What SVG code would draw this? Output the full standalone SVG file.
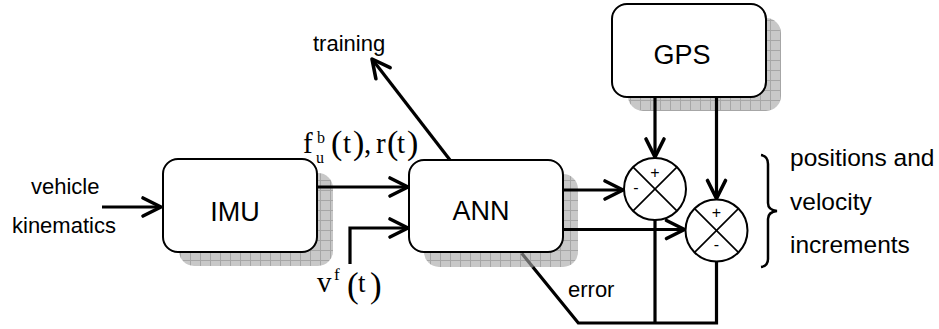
<svg xmlns="http://www.w3.org/2000/svg" width="939" height="329" viewBox="0 0 939 329">
<style>
.box{fill:#fff;stroke:#000;stroke-width:2}
.shadow{fill:url(#hatch)}
.lbl{font-family:"Liberation Sans",Arial,sans-serif;font-size:22px;fill:#000}
.big{font-size:24.5px}
.blbl{font-family:"Liberation Sans",Arial,sans-serif;font-size:27px;fill:#000;text-anchor:middle}
.sign{font-family:"Liberation Sans",Arial,sans-serif;font-size:16px;fill:#000;text-anchor:middle}
.math{font-family:"Liberation Serif","Times New Roman",serif;fill:#000}
.conn{fill:none;stroke:#000;stroke-width:3.2}
.arr{marker-end:url(#arrow)}
.sum{fill:#fff;stroke:#000;stroke-width:2}
.x{stroke:#000;stroke-width:1.6}
</style>
<defs>
<pattern id="hatch" width="10" height="10" patternUnits="userSpaceOnUse">
<rect width="10" height="10" fill="#c8c8c8"/>
<path d="M0,0.5H10M0.5,0V10" stroke="#a6a6a6" stroke-width="1"/>
</pattern>
<marker id="arrow" markerUnits="userSpaceOnUse" viewBox="-22 -12 26 24" refX="0" refY="0" markerWidth="26" markerHeight="24" orient="auto" overflow="visible">
<path d="M-18,-9 L0,0 L-18,9" fill="none" stroke="#000" stroke-width="3.6" stroke-linejoin="round" stroke-linecap="round"/>
</marker>
</defs>

<g id="shadows">
<rect class="shadow" x="179" y="173" width="154" height="93" rx="15"/>
<rect class="shadow" x="424" y="174" width="154" height="93" rx="15"/>
<rect class="shadow" x="628" y="18" width="153" height="93" rx="15"/>
</g>

<g id="connectors">
<path class="conn arr" d="M102,207 L161,207"/>
<path class="conn arr" d="M317,187 L408,187"/>
<path class="conn arr" d="M350,264 L350,228 L408,228"/>
<path class="conn arr" d="M563,190 L623,190"/>
<path class="conn arr" d="M563,229.5 L684.5,229.5"/>
<path class="conn arr" d="M655,97 L655,157"/>
<path class="conn arr" d="M716.5,97 L716.5,198.5"/>
<path class="conn arr" d="M450,160 L372,59"/>
<path d="M521.7,253.3 L532.8,267" fill="none" stroke="#666" stroke-width="3.2"/>
<path class="conn" d="M532.8,267 L578.3,323 L716.5,323 L716.5,261.5"/>
<path class="conn" d="M655,220 L655,323"/>
</g>

<g id="IMU">
<rect class="box" x="163" y="159" width="154" height="93" rx="15"/>
<text class="blbl" x="235" y="221">IMU</text>
</g>

<g id="ANN">
<rect class="box" x="409" y="160" width="154" height="92" rx="15"/>
<text class="blbl" x="481" y="220">ANN</text>
</g>

<g id="GPS">
<rect class="box" x="612" y="4" width="154" height="93" rx="15"/>
<text class="blbl" x="682" y="64">GPS</text>
</g>

<g id="sum1">
<circle class="sum" cx="655" cy="189" r="31"/>
<path class="x" d="M633.1,167.1 L676.9,210.9 M676.9,167.1 L633.1,210.9"/>
<text class="sign" x="655" y="178">+</text>
<text class="sign" x="636" y="193">-</text>
</g>

<g id="sum2">
<circle class="sum" cx="716.5" cy="230.5" r="31"/>
<path class="x" d="M694.6,208.6 L738.4,252.4 M738.4,208.6 L694.6,252.4"/>
<text class="sign" x="716.5" y="218">+</text>
<text class="sign" x="716.5" y="250">-</text>
</g>

<g id="labels">
<text class="lbl" x="31" y="194">vehicle</text>
<text class="lbl" x="12" y="233">kinematics</text>
<text class="lbl" x="313" y="51">training</text>
<text class="lbl" x="568" y="297">error</text>
<text class="lbl big" x="790" y="166">positions and</text>
<text class="lbl big" x="790" y="210">velocity</text>
<text class="lbl big" x="790" y="253">increments</text>
<path d="M761,155 Q768,156 768,164 L768,203 Q768,210 777,211 Q768,212 768,219 L768,259 Q768,266 761,267" fill="none" stroke="#000" stroke-width="2.5"/>
</g>

<g id="math-fr">
<text class="math" x="303" y="153" font-size="29">f</text>
<text class="math" x="317" y="143" font-size="16">b</text>
<text class="math" x="316" y="163" font-size="16">u</text>
<text class="math" x="331" y="154" font-size="34">(</text>
<text class="math" x="343" y="153" font-size="29">t</text>
<text class="math" x="353" y="154" font-size="34">)</text>
<text class="math" x="364" y="153" font-size="29">,</text>
<text class="math" x="376" y="153" font-size="29">r</text>
<text class="math" x="387" y="154" font-size="34">(</text>
<text class="math" x="397" y="153" font-size="29">t</text>
<text class="math" x="407" y="154" font-size="34">)</text>
</g>

<g id="math-v">
<text class="math" x="317" y="292" font-size="29">v</text>
<text class="math" x="334" y="280" font-size="17">f</text>
<text class="math" x="347" y="297" font-size="35">(</text>
<text class="math" x="358" y="292" font-size="27">t</text>
<text class="math" x="370" y="297" font-size="35">)</text>
</g>
</svg>
